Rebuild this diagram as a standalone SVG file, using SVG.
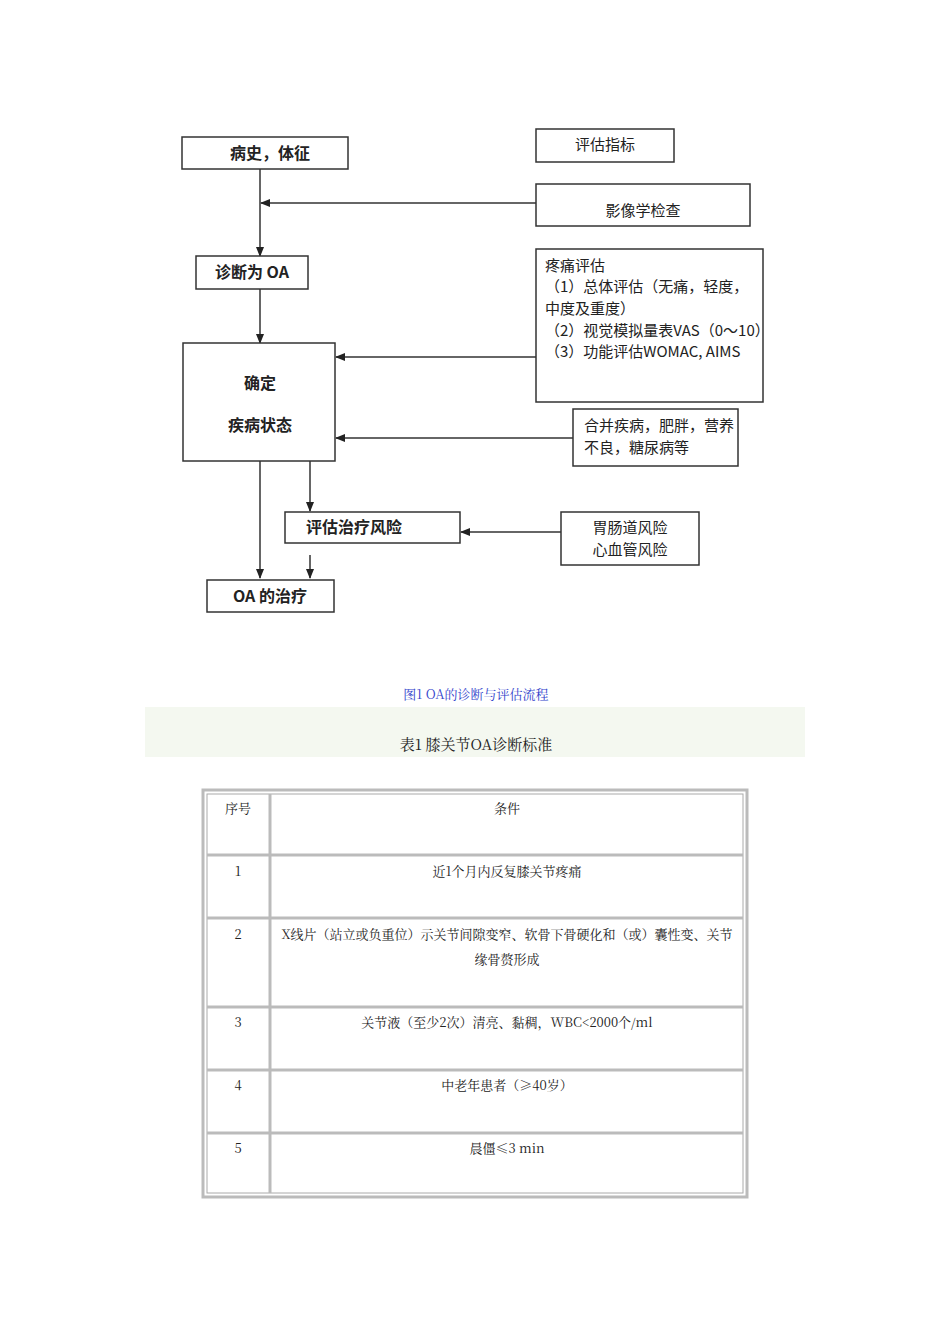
<svg xmlns="http://www.w3.org/2000/svg" width="950" height="1344" viewBox="0 0 950 1344">
<style>
.b{fill:#fff;stroke:#333;stroke-width:1.5}
.t{font-family:"Noto Sans CJK SC",sans-serif;font-size:15px;fill:#222}
.tb{font-family:"Noto Sans CJK SC",sans-serif;font-size:16px;font-weight:bold;fill:#222}
.s{font-family:"Noto Serif CJK SC","Liberation Serif","Noto Sans CJK SC",serif;font-size:13px;fill:#222}
.c line{stroke:#333;stroke-width:1.5;fill:none}
.g{fill:none;stroke:#aaa;stroke-width:1}
</style>
<defs><marker id="a" markerWidth="10" markerHeight="10" refX="9" refY="5" orient="auto" markerUnits="userSpaceOnUse"><path d="M0,1 L10,5 L0,9 Z" fill="#222"/></marker></defs>
<rect width="950" height="1344" fill="#fff"/>
<g class="c">
<line x1="260" y1="169" x2="260" y2="256" marker-end="url(#a)"/>
<line x1="536" y1="203" x2="261" y2="203" marker-end="url(#a)"/>
<line x1="260" y1="289" x2="260" y2="343" marker-end="url(#a)"/>
<line x1="536" y1="357" x2="336" y2="357" marker-end="url(#a)"/>
<line x1="573" y1="438" x2="336" y2="438" marker-end="url(#a)"/>
<line x1="260" y1="461" x2="260" y2="578" marker-end="url(#a)"/>
<line x1="310" y1="461" x2="310" y2="511" marker-end="url(#a)"/>
<line x1="561" y1="532" x2="461" y2="532" marker-end="url(#a)"/>
<line x1="310" y1="555" x2="310" y2="578" marker-end="url(#a)"/>
</g>
<g id="n1"><rect class="b" x="182" y="137" width="166" height="32"/><text class="tb" x="270" y="159" text-anchor="middle">病史，体征</text></g>
<g id="n2"><rect class="b" x="536" y="129" width="138" height="33"/><text class="t" x="605" y="150" text-anchor="middle">评估指标</text></g>
<g id="n3"><rect class="b" x="536" y="184" width="214" height="42"/><text class="t" x="643" y="216" text-anchor="middle">影像学检查</text></g>
<g id="n4"><rect class="b" x="196" y="256" width="112" height="33"/><text class="tb" x="252" y="278" text-anchor="middle">诊断为 OA</text></g>
<g id="n5"><rect class="b" x="536" y="249" width="227" height="153"/>
<text class="t" x="545" y="271">疼痛评估</text>
<text class="t" x="545" y="292">（1）总体评估（无痛，轻度，</text>
<text class="t" x="545" y="314">中度及重度）</text>
<text class="t" x="545" y="336">（2）视觉模拟量表VAS（0～10）</text>
<text class="t" x="545" y="357">（3）功能评估WOMAC, AIMS</text></g>
<g id="n6"><rect class="b" x="183" y="343" width="152" height="118"/><text class="tb" x="260" y="389" text-anchor="middle">确定</text><text class="tb" x="260" y="431" text-anchor="middle">疾病状态</text></g>
<g id="n7"><rect class="b" x="573" y="409" width="165" height="57"/><text class="t" x="584" y="431">合并疾病，肥胖，营养</text><text class="t" x="584" y="453">不良，糖尿病等</text></g>
<g id="n8"><rect class="b" x="285" y="512" width="175" height="31"/><text class="tb" x="354" y="533" text-anchor="middle">评估治疗风险</text></g>
<g id="n9"><rect class="b" x="561" y="512" width="138" height="53"/><text class="t" x="630" y="533" text-anchor="middle">胃肠道风险</text><text class="t" x="630" y="555" text-anchor="middle">心血管风险</text></g>
<g id="n10"><rect class="b" x="207" y="580" width="127" height="32"/><text class="tb" x="270" y="602" text-anchor="middle">OA 的治疗</text></g>
<text class="s" x="476" y="699" text-anchor="middle" fill="#33c" style="fill:#3344cc">图1 OA的诊断与评估流程</text>
<rect x="145" y="707" width="660" height="50" fill="#f4f8f0"/>
<text class="s" x="476" y="750" text-anchor="middle" style="font-size:15px">表1 膝关节OA诊断标准</text>
<g id="table">
<rect x="203" y="790" width="544" height="407" fill="none" stroke="#bbb" stroke-width="3"/>
<rect x="207" y="794" width="536" height="399" class="g"/>
<line x1="270" y1="794" x2="270" y2="1193" stroke="#bbb" stroke-width="3"/>
<g stroke="#bbb" stroke-width="3">
<line x1="207" y1="855" x2="743" y2="855"/><line x1="207" y1="918" x2="743" y2="918"/><line x1="207" y1="1007" x2="743" y2="1007"/><line x1="207" y1="1070" x2="743" y2="1070"/><line x1="207" y1="1133" x2="743" y2="1133"/>
</g>
<text class="s" x="238" y="813" text-anchor="middle">序号</text><text class="s" x="507" y="813" text-anchor="middle">条件</text>
<text class="s" x="238" y="876" text-anchor="middle">1</text><text class="s" x="507" y="876" text-anchor="middle">近1个月内反复膝关节疼痛</text>
<text class="s" x="238" y="939" text-anchor="middle">2</text><text class="s" x="507" y="939" text-anchor="middle">X线片（站立或负重位）示关节间隙变窄、软骨下骨硬化和（或）囊性变、关节</text><text class="s" x="507" y="964" text-anchor="middle">缘骨赘形成</text>
<text class="s" x="238" y="1027" text-anchor="middle">3</text><text class="s" x="507" y="1027" text-anchor="middle">关节液（至少2次）清亮、黏稠，WBC&lt;2000个/ml</text>
<text class="s" x="238" y="1090" text-anchor="middle">4</text><text class="s" x="507" y="1090" text-anchor="middle">中老年患者（≥40岁）</text>
<text class="s" x="238" y="1153" text-anchor="middle">5</text><text class="s" x="507" y="1153" text-anchor="middle">晨僵≤3 min</text>
</g>
</svg>
